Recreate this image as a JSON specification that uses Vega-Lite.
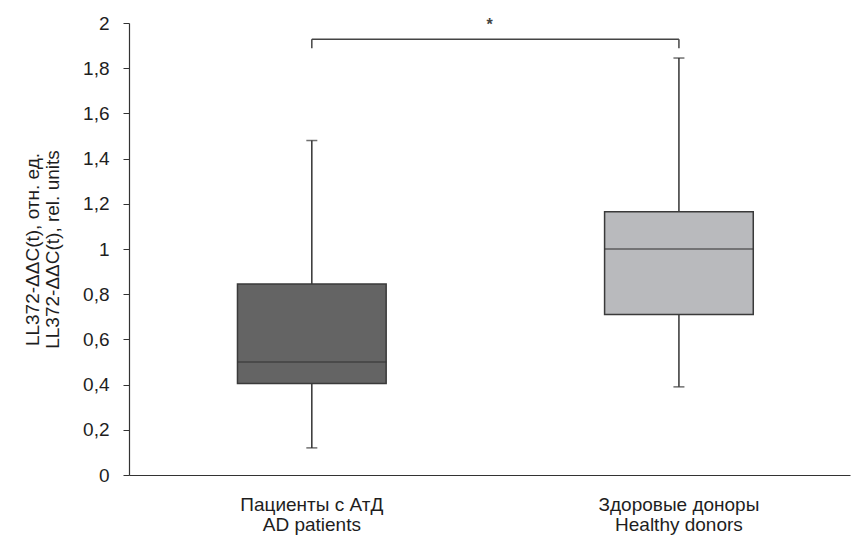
{
  "$schema": "https://vega.github.io/schema/vega-lite/v6.json",
  "width": 721,
  "height": 452,
  "autosize": {"type": "none"},
  "padding": {"left": 129, "top": 23, "right": 3, "bottom": 61},
  "background": "white",
  "config": {
    "view": {"stroke": null},
    "font": "Liberation Sans",
    "axis": {
      "labelFont": "Liberation Sans",
      "titleFont": "Liberation Sans",
      "labelColor": "#1e1e1e",
      "titleColor": "#1e1e1e",
      "domainColor": "#333333",
      "tickColor": "#333333",
      "grid": false
    }
  },
  "datasets": {
    "boxes": [
      {"group": "Пациенты с АтД|AD patients", "min": 0.12, "q1": 0.405, "median": 0.5, "q3": 0.845, "max": 1.48},
      {"group": "Здоровые доноры|Healthy donors", "min": 0.39, "q1": 0.71, "median": 1.0, "q3": 1.165, "max": 1.845}
    ],
    "bracket": [
      {"from": "Пациенты с АтД|AD patients", "to": "Здоровые доноры|Healthy donors", "y": 1.928}
    ],
    "bracketEnds": [
      {"group": "Пациенты с АтД|AD patients", "y": 1.888, "y2": 1.928},
      {"group": "Здоровые доноры|Healthy donors", "y": 1.888, "y2": 1.928}
    ],
    "sig": [{"label": "*", "y": 1.99}]
  },
  "layer": [
    {
      "data": {"name": "boxes"},
      "mark": {"type": "rule", "color": "#333333", "strokeWidth": 1.5},
      "encoding": {
        "x": {
          "field": "group", "type": "nominal", "sort": null,
          "scale": {"paddingInner": 0.1, "paddingOuter": 0.032, "align": 0.75},
          "axis": {
            "title": null,
            "labelAngle": 0,
            "labelExpr": "split(datum.label, '|')",
            "labelFontSize": 19,
            "labelLineHeight": 20,
            "labelPadding": 20,
            "ticks": false,
            "domainWidth": 1.2
          }
        },
        "y": {
          "field": "min", "type": "quantitative",
          "scale": {"domain": [0, 2], "nice": false, "zero": true},
          "axis": {
            "values": [0, 0.2, 0.4, 0.6, 0.8, 1, 1.2, 1.4, 1.6, 1.8, 2],
            "labelExpr": "replace(format(datum.value, '~g'), '.', ',')",
            "labelFontSize": 19,
            "tickSize": 6,
            "labelPadding": 14,
            "domainWidth": 1.2,
            "title": ["LL372-ΔΔC(t), отн. ед.", "LL372-ΔΔC(t), rel. units"],
            "titleFontSize": 19,
            "titleFontWeight": "normal",
            "titleLineHeight": 20,
            "titlePadding": 20
          }
        },
        "y2": {"field": "max"}
      }
    },
    {
      "data": {"name": "boxes"},
      "mark": {"type": "bar", "stroke": "#3a3a3a", "strokeWidth": 1.5, "width": {"band": 0.45}},
      "encoding": {
        "x": {"field": "group", "type": "nominal", "sort": null},
        "y": {"field": "q1", "type": "quantitative"},
        "y2": {"field": "q3"},
        "color": {
          "field": "group", "type": "nominal", "legend": null,
          "scale": {"domain": ["Пациенты с АтД|AD patients", "Здоровые доноры|Healthy donors"], "range": ["#646464", "#b9babd"]}
        }
      }
    },
    {
      "data": {"name": "boxes"},
      "mark": {"type": "tick", "color": "#333333", "thickness": 1.5, "size": 149},
      "encoding": {
        "x": {"field": "group", "type": "nominal", "sort": null},
        "y": {"field": "median", "type": "quantitative"}
      }
    },
    {
      "data": {"name": "boxes"},
      "mark": {"type": "tick", "color": "#333333", "thickness": 1.5, "size": 11},
      "encoding": {
        "x": {"field": "group", "type": "nominal", "sort": null},
        "y": {"field": "min", "type": "quantitative"}
      }
    },
    {
      "data": {"name": "boxes"},
      "mark": {"type": "tick", "color": "#333333", "thickness": 1.5, "size": 11},
      "encoding": {
        "x": {"field": "group", "type": "nominal", "sort": null},
        "y": {"field": "max", "type": "quantitative"}
      }
    },
    {
      "data": {"name": "bracket"},
      "mark": {"type": "rule", "color": "#444444", "strokeWidth": 1.5},
      "encoding": {
        "x": {"field": "from", "type": "nominal", "sort": null},
        "x2": {"field": "to"},
        "y": {"field": "y", "type": "quantitative"}
      }
    },
    {
      "data": {"name": "bracketEnds"},
      "mark": {"type": "rule", "color": "#444444", "strokeWidth": 1.5},
      "encoding": {
        "x": {"field": "group", "type": "nominal", "sort": null},
        "y": {"field": "y", "type": "quantitative"},
        "y2": {"field": "y2"}
      }
    },
    {
      "data": {"name": "sig"},
      "mark": {"type": "text", "fontSize": 16, "fontWeight": "bold", "color": "#444444", "baseline": "middle"},
      "encoding": {
        "text": {"field": "label"},
        "y": {"field": "y", "type": "quantitative"}
      }
    }
  ]
}
